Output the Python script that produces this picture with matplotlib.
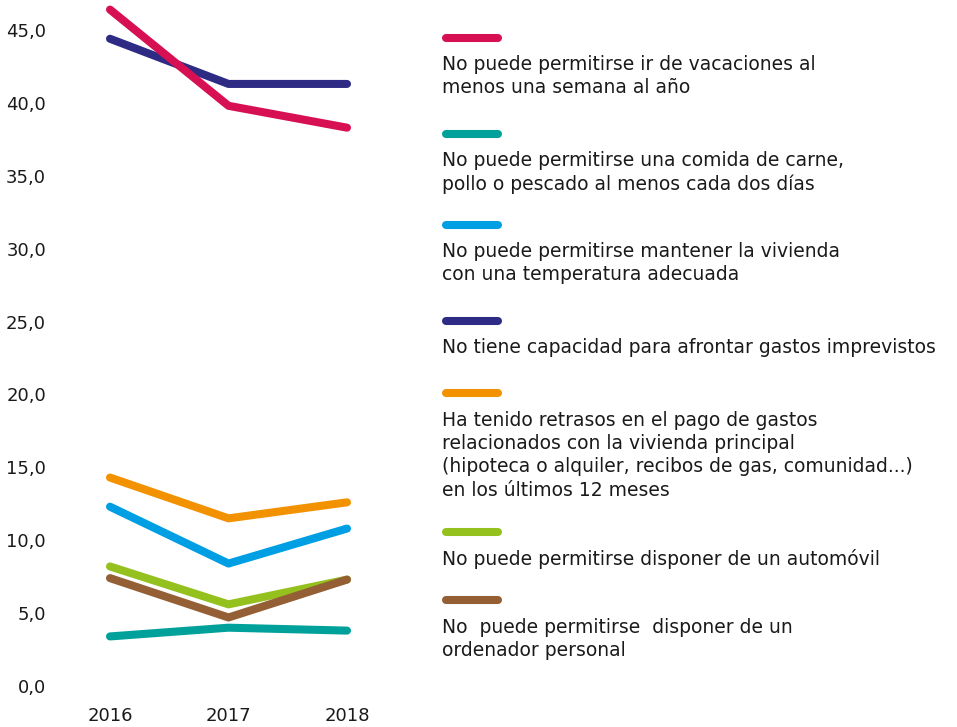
import matplotlib.pyplot as plt
from matplotlib.lines import Line2D

plt.rcParams['font.family'] = ['DejaVu Sans']

# Data
years = [2016, 2017, 2018]
vacaciones = [46.4, 39.8, 38.3]
carne = [3.4, 4.0, 3.8]
temperatura = [12.3, 8.4, 10.8]
imprevistos = [44.4, 41.3, 41.3]
retrasos = [14.3, 11.5, 12.6]
automovil = [8.2, 5.6, 7.3]
ordenador = [7.4, 4.7, 7.3]

series = [
    (vacaciones, '#D70F53', 'No puede permitirse ir de vacaciones al\nmenos una semana al año'),
    (carne, '#00A19A', 'No puede permitirse una comida de carne,\npollo o pescado al menos cada dos días'),
    (temperatura, '#009FE3', 'No puede permitirse mantener la vivienda\ncon una temperatura adecuada'),
    (imprevistos, '#2E2B84', 'No tiene capacidad para afrontar gastos imprevistos'),
    (retrasos, '#F39200', 'Ha tenido retrasos en el pago de gastos\nrelacionados con la vivienda principal\n(hipoteca o alquiler, recibos de gas, comunidad...)\nen los últimos 12 meses'),
    (automovil, '#95C11F', 'No puede permitirse disponer de un automóvil'),
    (ordenador, '#955F36', 'No  puede permitirse  disponer de un\nordenador personal'),
]

W, H = 957, 727
fig = plt.figure(figsize=(W / 100, H / 100), dpi=100)
ax = fig.add_axes([110 / W, (H - 686) / H, 237 / W, 656 / H])

# draw order: keep lower series visible like the reference
order = [1, 4, 2, 5, 6, 3, 0]
for i in order:
    vals, col, _ = series[i]
    ax.plot(years, vals, color=col, lw=5.8, solid_capstyle='round',
            solid_joinstyle='round', clip_on=False)

ax.set_xlim(2016, 2018)
ax.set_ylim(0, 45)
ax.set_yticks(range(0, 46, 5))
ax.set_yticklabels([f'{v},0' for v in range(0, 46, 5)])
ax.set_xticks(years)
ax.set_xticklabels([str(y) for y in years])
for s in ax.spines.values():
    s.set_visible(False)
ax.tick_params(length=0, labelsize=13, colors='#1a1a1a')
ax.tick_params(axis='y', pad=46)
ax.tick_params(axis='x', pad=15)

# custom legend: coloured bar above each label
bar_y = [38, 134, 225, 321, 393, 532, 600]
text_y = [55, 151, 242, 338, 411, 549, 618]
for (vals, col, label), by, ty in zip(series, bar_y, text_y):
    fig.add_artist(Line2D([446 / W, 498 / W], [1 - by / H, 1 - by / H],
                          color=col, lw=5.8, solid_capstyle='round'))
    fig.text(442 / W, 1 - ty / H, label, fontsize=13.5, color='#1a1a1a',
             va='top', ha='left', linespacing=1.28)

fig.savefig('out.png', dpi=100)
